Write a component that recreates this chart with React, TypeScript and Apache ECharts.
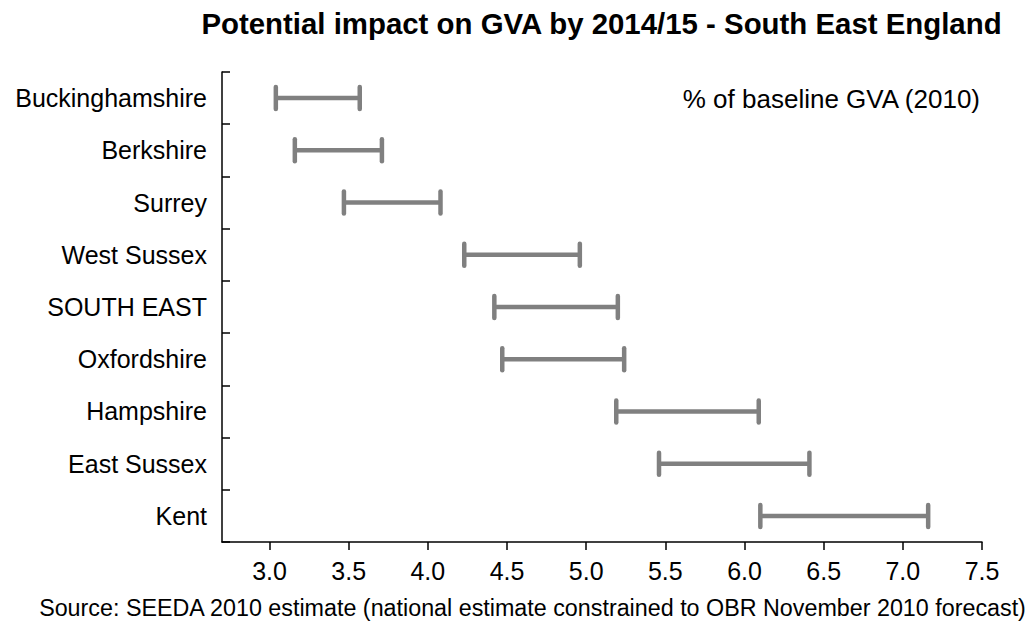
import React, { useEffect, useRef } from "react";
import * as echarts from "echarts";

const categories = [
  "Buckinghamshire",
  "Berkshire",
  "Surrey",
  "West Sussex",
  "SOUTH EAST",
  "Oxfordshire",
  "Hampshire",
  "East Sussex",
  "Kent",
];
const lowValues = [3.04, 3.16, 3.47, 4.23, 4.42, 4.47, 5.19, 5.46, 6.1];
const highValues = [3.57, 3.71, 4.08, 4.96, 5.2, 5.24, 6.09, 6.41, 7.16];
const xTicks = [3.0, 3.5, 4.0, 4.5, 5.0, 5.5, 6.0, 6.5, 7.0, 7.5];

const titleText = "Potential impact on GVA by 2014/15 - South East England";
const noteText = "% of baseline GVA (2010)";
const sourceText =
  "Source: SEEDA 2010 estimate (national estimate constrained to OBR November 2010 forecast)";

const FONT = "'Liberation Sans', Arial, sans-serif";
const BAR_COLOR = "#808080";

export default function App() {
  const ref = useRef<HTMLDivElement>(null);

  useEffect(() => {
    if (!ref.current) return;
    const chart = echarts.init(ref.current, null, { renderer: "svg" });
    const data = categories.map((c, i) => [i, lowValues[i], highValues[i]]);

    chart.setOption({
      animation: false,
      backgroundColor: "#ffffff",
      textStyle: { fontFamily: FONT },
      grid: { left: 222, right: 49, top: 72, bottom: 80, containLabel: false },
      xAxis: {
        type: "value",
        min: 2.7,
        max: 7.5,
        splitLine: { show: false },
        axisLine: { show: true, lineStyle: { color: "#000", width: 1.5 } },
        axisTick: {
          show: true,
          inside: false,
          length: 8,
          customValues: xTicks,
          lineStyle: { color: "#000", width: 1.5 },
        },
        axisLabel: {
          customValues: xTicks,
          formatter: (v: number) => v.toFixed(1),
          color: "#000",
          fontSize: 25,
          fontFamily: FONT,
          margin: 16,
        },
      },
      yAxis: {
        type: "category",
        data: categories,
        inverse: true,
        boundaryGap: true,
        axisLine: { show: true, lineStyle: { color: "#000", width: 1.5 } },
        axisTick: {
          show: true,
          inside: true,
          length: 8,
          alignWithLabel: false,
          lineStyle: { color: "#000", width: 1.5 },
        },
        axisLabel: {
          color: "#000",
          fontSize: 25,
          fontFamily: FONT,
          margin: 15,
        },
        splitLine: { show: false },
      },
      series: [
        {
          type: "custom",
          data,
          encode: { x: [1, 2], y: 0 },
          renderItem: (params: any, api: any) => {
            const cat = api.value(0);
            const lo = api.coord([api.value(1), cat]);
            const hi = api.coord([api.value(2), cat]);
            const half = 11;
            const style = {
              stroke: BAR_COLOR,
              lineWidth: 4.5,
              lineCap: "round",
              fill: null,
            };
            return {
              type: "group",
              children: [
                {
                  type: "line",
                  shape: { x1: lo[0], y1: lo[1], x2: hi[0], y2: hi[1] },
                  style: { ...style, lineCap: "butt" },
                },
                {
                  type: "line",
                  shape: { x1: lo[0], y1: lo[1] - half, x2: lo[0], y2: lo[1] + half },
                  style,
                },
                {
                  type: "line",
                  shape: { x1: hi[0], y1: hi[1] - half, x2: hi[0], y2: hi[1] + half },
                  style,
                },
              ],
            };
          },
        },
      ],
      graphic: [
        {
          type: "text",
          x: 601.5,
          y: 23,
          style: {
            text: titleText,
            fill: "#000",
            font: `bold 29.4px ${FONT}`,
            textAlign: "center",
            textVerticalAlign: "middle",
          },
        },
        {
          type: "text",
          x: 980,
          y: 99,
          style: {
            text: noteText,
            fill: "#000",
            font: `26px ${FONT}`,
            textAlign: "right",
            textVerticalAlign: "middle",
          },
        },
        {
          type: "text",
          x: 532.5,
          y: 608,
          style: {
            text: sourceText,
            fill: "#000",
            font: `23.3px ${FONT}`,
            textAlign: "center",
            textVerticalAlign: "middle",
          },
        },
      ],
    });

    return () => {
      chart.dispose();
    };
  }, []);

  return (
    <div
      ref={ref}
      style={{ position: "fixed", left: 0, top: 0, width: 1031, height: 622 }}
    />
  );
}
